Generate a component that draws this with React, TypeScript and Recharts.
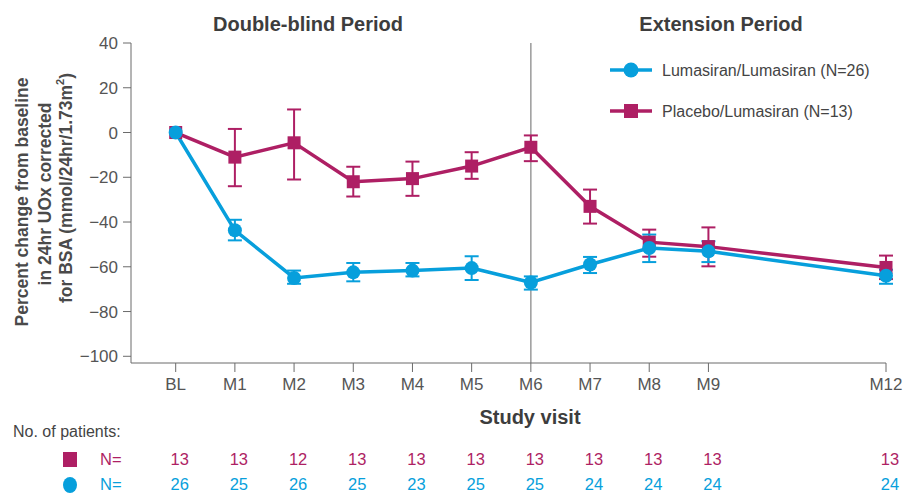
import { LineChart, Line, XAxis, YAxis, ErrorBar, ReferenceLine } from "recharts";

// study visits in months from baseline
const visits = [0, 1, 2, 3, 4, 5, 6, 7, 8, 9, 12];
const visitLabels = ["BL", "M1", "M2", "M3", "M4", "M5", "M6", "M7", "M8", "M9", "M12"];

const lumaMean = [0, -43.7, -65, -62.5, -61.7, -60.6, -67, -59, -51.6, -53.1, -64];
const lumaLow = [null, -48.2, -67.6, -66.5, -64.3, -65.9, -70.2, -62.8, -57.9, -57.9, -67.6];
const lumaHigh = [null, -39, -61.7, -58.3, -58.3, -55.3, -64.3, -55.6, -45.6, -48.6, -61.3];

const placeboMean = [0, -11, -4.6, -22, -20.6, -15, -6.6, -33, -49, -51, -60.3];
const placeboLow = [null, -24, -21, -28.6, -28.3, -20.7, -12.8, -40.7, -55.5, -59.8, -65.5];
const placeboHigh = [null, 1.6, 10.3, -15.3, -13, -8.8, -1.3, -25.5, -43.4, -42.4, -55];

const placeboN = [13, 13, 12, 13, 13, 13, 13, 13, 13, 13, 13];
const lumaN = [26, 25, 26, 25, 23, 25, 25, 24, 24, 24, 24];

const yTicks = [-100, -80, -60, -40, -20, 0, 20, 40];

const MAGENTA = "#AE1F64";
const BLUE = "#079FDC";
const FONT = "'Liberation Sans', Arial, sans-serif";

const errOf = (mean: number, low: number | null, high: number | null) =>
  low == null || high == null ? null : [mean - low, high - mean];

const data = visits.map((m, i) => ({
  month: m,
  luma: lumaMean[i],
  lumaErr: errOf(lumaMean[i], lumaLow[i], lumaHigh[i]),
  placebo: placeboMean[i],
  placeboErr: errOf(placeboMean[i], placeboLow[i], placeboHigh[i]),
}));

const labelOf = (v: number) => visitLabels[visits.indexOf(v)] ?? "";
const fmtY = (v: number) => (v < 0 ? "\u2212" + Math.abs(v) : String(v));

const SquareDot = (props: any) => {
  const { cx, cy, index } = props;
  if (cx == null || cy == null) return <g key={"s" + index} />;
  return <rect key={"s" + index} x={cx - 6.5} y={cy - 6.5} width={13} height={13} fill={MAGENTA} />;
};

const CircleDot = (props: any) => {
  const { cx, cy, index } = props;
  if (cx == null || cy == null) return <g key={"c" + index} />;
  return <circle key={"c" + index} cx={cx} cy={cy} r={7} fill={BLUE} />;
};

const nTick = (values: number[], color: string, dy: number) => (props: any) => {
  const { x, y, payload } = props;
  const i = visits.indexOf(payload.value);
  return (
    <text x={x + 4} y={y + dy} textAnchor="middle" fill={color} fontSize={16.5} fontFamily={FONT}>
      {values[i]}
    </text>
  );
};

export default function App() {
  return (
    <div style={{ position: "fixed", left: 0, top: 0, width: 903, height: 493, overflow: "hidden", background: "#fff" }}>
      <LineChart
        width={903}
        height={493}
        data={data}
        margin={{ top: 43, right: 17, bottom: 0, left: 0 }}
      >
        <XAxis
          xAxisId={0}
          dataKey="month"
          type="number"
          domain={[-0.755, 12]}
          ticks={visits}
          tickFormatter={labelOf}
          height={82}
          stroke="#6b6b6b"
          tickSize={9}
          tickMargin={6}
          tick={{ fill: "#555", fontSize: 17, fontFamily: FONT }}
        />
        <XAxis
          xAxisId={1}
          dataKey="month"
          type="number"
          domain={[-0.755, 12]}
          ticks={visits}
          height={24}
          axisLine={false}
          tickLine={false}
          tickSize={0}
          tickMargin={0}
          tick={nTick(placeboN, MAGENTA, 20)}
        />
        <XAxis
          xAxisId={2}
          dataKey="month"
          type="number"
          domain={[-0.755, 12]}
          ticks={visits}
          height={24}
          axisLine={false}
          tickLine={false}
          tickSize={0}
          tickMargin={0}
          tick={nTick(lumaN, BLUE, 21)}
        />
        <YAxis
          width={131}
          domain={[-103, 40]}
          ticks={yTicks}
          tickFormatter={fmtY}
          stroke="#6b6b6b"
          tickSize={8}
          tickMargin={5}
          tick={{ fill: "#555", fontSize: 17, fontFamily: FONT }}
        />
        <ReferenceLine xAxisId={0} x={6} stroke="#9a9a9a" strokeWidth={1.5} />
        <Line
          xAxisId={0}
          dataKey="placebo"
          stroke={MAGENTA}
          strokeWidth={3.5}
          dot={SquareDot}
          activeDot={false}
          isAnimationActive={false}
        >
          <ErrorBar dataKey="placeboErr" width={7} stroke={MAGENTA} strokeWidth={2} isAnimationActive={false} />
        </Line>
        <Line
          xAxisId={0}
          dataKey="luma"
          stroke={BLUE}
          strokeWidth={3.5}
          dot={CircleDot}
          activeDot={false}
          isAnimationActive={false}
        >
          <ErrorBar dataKey="lumaErr" width={7} stroke={BLUE} strokeWidth={2} isAnimationActive={false} />
        </Line>
      </LineChart>
      <svg
        width={903}
        height={493}
        style={{ position: "absolute", left: 0, top: 0, pointerEvents: "none" }}
        fontFamily={FONT}
      >
        <text x={308} y={31} textAnchor="middle" fontSize={20} fontWeight="bold" fill="#3d3d3d">
          Double-blind Period
        </text>
        <text x={721} y={31} textAnchor="middle" fontSize={20} fontWeight="bold" fill="#3d3d3d">
          Extension Period
        </text>
        <g transform="rotate(-90)" fontSize={17.5} fontWeight="bold" fill="#4a4a4a" textAnchor="middle">
          <text x={-202} y={22} dominantBaseline="central">Percent change from baseline</text>
          <text x={-194} y={45} dominantBaseline="central">in 24hr UOx corrected</text>
          <text x={-188} y={66} dominantBaseline="central">
            for BSA (mmol/24hr/1.73m<tspan fontSize={11} dy={-6}>2</tspan>
            <tspan dy={6}>)</tspan>
          </text>
        </g>
        <line x1={610} y1={70} x2={652} y2={70} stroke={BLUE} strokeWidth={3.5} />
        <circle cx={631} cy={70} r={7.5} fill={BLUE} />
        <text x={662} y={76} fontSize={16} fill="#444">Lumasiran/Lumasiran (N=26)</text>
        <line x1={610} y1={111} x2={652} y2={111} stroke={MAGENTA} strokeWidth={3.5} />
        <rect x={624} y={104} width={14} height={14} fill={MAGENTA} />
        <text x={662} y={117} fontSize={16} fill="#444">Placebo/Lumasiran (N=13)</text>
        <text x={530} y={424} textAnchor="middle" fontSize={20} fontWeight="bold" fill="#3d3d3d">
          Study visit
        </text>
        <text x={13} y={437} fontSize={16} fill="#444">No. of patients:</text>
        <rect x={63} y={452} width={14} height={15} fill={MAGENTA} />
        <text x={100} y={465} fontSize={16.5} fill={MAGENTA}>N=</text>
        <ellipse cx={70} cy={485} rx={7} ry={8} fill={BLUE} />
        <text x={100} y={490} fontSize={16.5} fill={BLUE}>N=</text>
      </svg>
    </div>
  );
}
